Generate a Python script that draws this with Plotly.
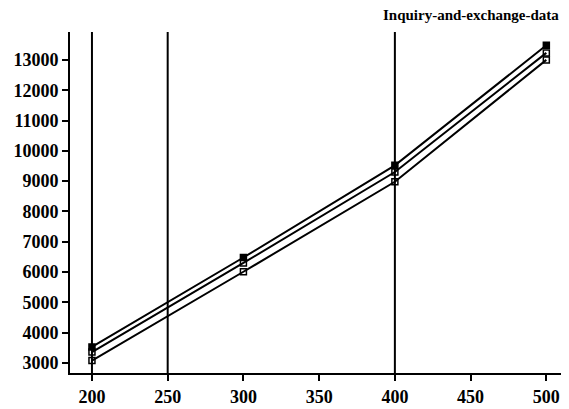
import plotly.graph_objects as go

x_vals = [200, 300, 400, 500]
series_a = [3530, 6480, 9520, 13480]
series_b = [3360, 6300, 9300, 13230]
series_c = [3080, 6010, 8980, 13000]
vlines_x = [200, 250, 400]
x_ticks = [200, 250, 300, 350, 400, 450, 500]
y_ticks = [3000, 4000, 5000, 6000, 7000, 8000, 9000, 10000, 11000, 12000, 13000]
title_text = "Inquiry-and-exchange-data"

SERIF = "Times New Roman"
tick_font = dict(family=SERIF, size=18, color="black")

fig = go.Figure()
for ys, sym in [(series_a, "square"), (series_b, "square-open"), (series_c, "square-open")]:
    fig.add_trace(go.Scatter(x=x_vals, y=ys, mode="lines+markers",
                             line=dict(color="black", width=2),
                             marker=dict(symbol=sym, size=6, color="black",
                                         line=dict(color="black", width=1.5)),
                             showlegend=False))
for vx in vlines_x:
    fig.add_shape(type="line", x0=vx, x1=vx, y0=0, y1=1, yref="paper", xref="x",
                  line=dict(color="black", width=2))

fig.update_layout(
    template="none",
    width=561, height=401,
    margin=dict(l=62, r=6, t=24, b=36),
    paper_bgcolor="white", plot_bgcolor="white",
    font=dict(family=SERIF, size=16, color="black"),
    annotations=[dict(text="<b>" + title_text + "</b>", x=0.995, y=1, xref="paper", yref="paper",
                      xanchor="right", yanchor="bottom", yshift=7, showarrow=False,
                      font=dict(family=SERIF, size=15, color="black"))],
    xaxis=dict(range=[185.5, 511], tickvals=x_ticks, ticktext=["<b>%d</b>" % v for v in x_ticks],
               tickfont=tick_font,
               showgrid=False, zeroline=False, showline=True, linecolor="black", linewidth=2,
               ticks="outside", ticklen=6, tickwidth=2, tickcolor="black"),
    yaxis=dict(range=[2670, 13920], tickvals=y_ticks, ticktext=["<b>%d</b>" % v for v in y_ticks],
               tickfont=tick_font,
               showgrid=False, zeroline=False, showline=True, linecolor="black", linewidth=2,
               ticks="outside", ticklen=6, tickwidth=2, tickcolor="black"),
)
fig.write_html("out.html")
